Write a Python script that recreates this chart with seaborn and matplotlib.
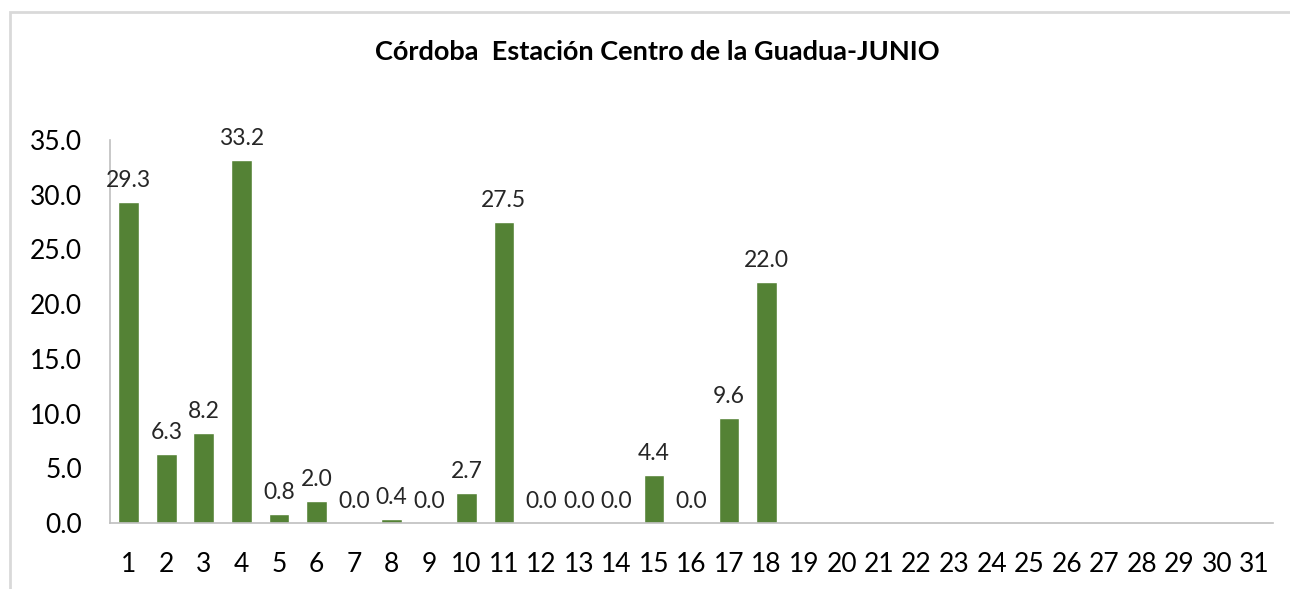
import matplotlib
matplotlib.use("Agg")
import matplotlib.pyplot as plt
import seaborn as sns
import pandas as pd
import numpy as np
from matplotlib.patches import Rectangle

# Daily values for June (days 19-31 have no data)
days = [str(d) for d in range(1, 32)]
rain = [29.3, 6.3, 8.2, 33.2, 0.8, 2.0, 0.0, 0.4, 0.0, 2.7, 27.5, 0.0, 0.0, 0.0,
        4.4, 0.0, 9.6, 22.0] + [np.nan] * 13

title = "Córdoba  Estación Centro de la Guadua-JUNIO"
bar_color = "#548235"

df = pd.DataFrame({"dia": days, "valor": rain})

sns.set_theme(style="white")
plt.rcParams['font.family'] = ['Lato', 'DejaVu Sans']

fig = plt.figure(figsize=(12.9, 5.89), dpi=100)
ax = fig.add_axes([110 / 1290, 1 - 523 / 589, (1273 - 110) / 1290, (523 - 140) / 589])

sns.barplot(data=df, x="dia", y="valor", color=bar_color, width=0.55,
            saturation=1, ax=ax, order=days)

# Data labels above the bars that have values
for i, v in enumerate(rain):
    if not np.isnan(v):
        ax.annotate(f"{v:.1f}", (i, v), xytext=(0, 8), textcoords="offset points",
                    ha="center", va="bottom", fontsize=16.5, color="#262626")

ax.set_ylim(0, 35)
ax.set_yticks(np.arange(0, 35.1, 5))
ax.set_yticklabels([f"{t:.1f}" for t in np.arange(0, 35.1, 5)], fontsize=19)
ax.set_xticks(range(len(days)))
ax.set_xticklabels(days, fontsize=19)
ax.set_xlim(-0.5, len(days) - 0.5)
ax.set_xlabel("")
ax.set_ylabel("")
ax.tick_params(axis="x", length=0, pad=21, colors="black")
ax.tick_params(axis="y", length=0, pad=20, colors="black")

for side in ["top", "right"]:
    ax.spines[side].set_visible(False)
for side in ["left", "bottom"]:
    ax.spines[side].set_color("#bfbfbf")
    ax.spines[side].set_linewidth(1.2)

fig.text(657 / 1290, 1 - 52 / 589, title, ha="center", va="center",
         fontsize=19.5, fontweight="bold", color="black")

# Outer chart frame (cropped at right and bottom)
fig.patches.append(Rectangle((10 / 1290, -0.05), 1.1, 1 - 12 / 589 + 0.05,
                             transform=fig.transFigure, fill=False,
                             edgecolor="#d9d9d9", linewidth=2))

fig.savefig("out.png", dpi=100)
